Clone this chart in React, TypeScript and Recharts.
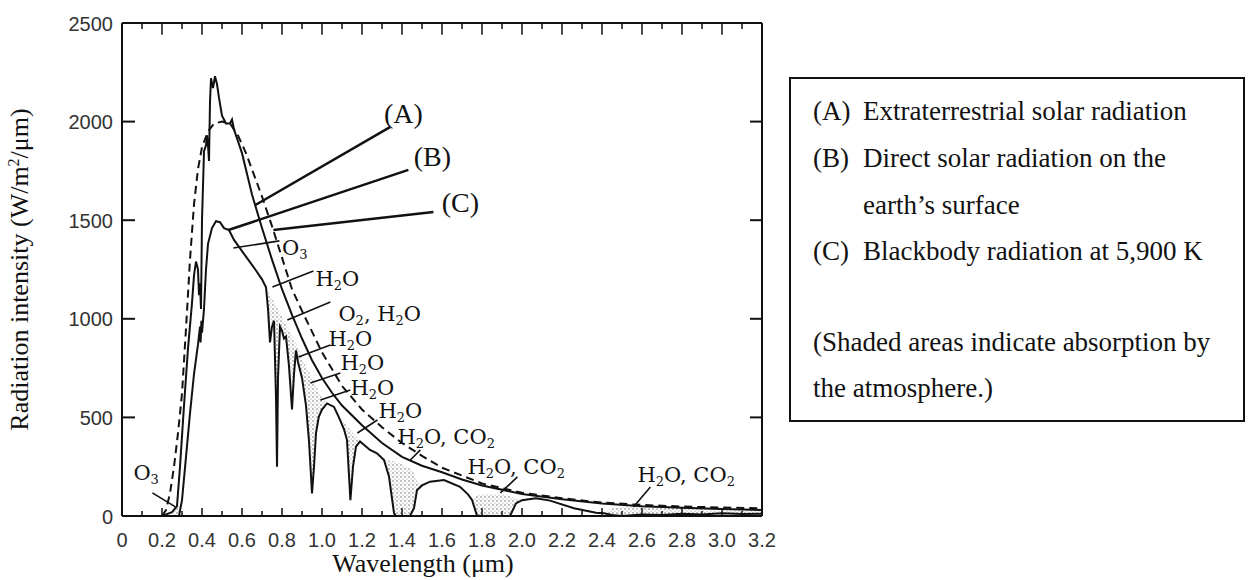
import React from 'react';
import { ComposedChart, Line, Area, XAxis, YAxis, ReferenceLine, ReferenceDot, Label } from 'recharts';

// (A) extraterrestrial solar radiation, W/m2/um vs wavelength um
const extraWl = [0.2, 0.25, 0.275, 0.29, 0.31, 0.33, 0.35, 0.36, 0.37, 0.38, 0.385, 0.39, 0.395, 0.4, 0.41, 0.42, 0.425, 0.43, 0.435, 0.44, 0.445, 0.455, 0.465, 0.475, 0.485, 0.5, 0.52, 0.54, 0.55, 0.56, 0.6, 0.65, 0.7, 0.75, 0.8, 0.85, 0.9, 0.95, 1.0, 1.05, 1.1, 1.2, 1.3, 1.4, 1.5, 1.6, 1.7, 1.8, 2.0, 2.2, 2.4, 2.6, 2.8, 3.0, 3.2];
const extraVal = [0, 20, 50, 250, 560, 850, 1080, 1220, 1290, 1250, 1120, 1180, 1050, 1500, 1850, 1880, 1930, 1880, 1800, 2100, 2220, 2170, 2230, 2190, 2120, 2030, 1990, 1990, 2010, 1960, 1840, 1630, 1460, 1300, 1150, 1020, 900, 790, 700, 625, 560, 460, 370, 300, 255, 222, 185, 155, 112, 85, 64, 50, 42, 35, 30];

// (C) blackbody 5,900 K
const bbWl = [0.2, 0.22, 0.24, 0.26, 0.28, 0.3, 0.32, 0.34, 0.36, 0.38, 0.4, 0.43, 0.46, 0.5, 0.54, 0.58, 0.62, 0.66, 0.7, 0.75, 0.8, 0.85, 0.9, 1.0, 1.1, 1.2, 1.3, 1.4, 1.5, 1.6, 1.8, 2.0, 2.2, 2.4, 2.6, 2.8, 3.0, 3.2];
const bbVal = [0, 30, 115, 250, 420, 620, 950, 1300, 1580, 1760, 1870, 1950, 1990, 2000, 1990, 1930, 1840, 1730, 1620, 1470, 1310, 1150, 1040, 830, 660, 540, 450, 370, 305, 245, 165, 118, 90, 68, 56, 48, 43, 39];

// (B) direct radiation at the surface, plus top of the absorbed (shaded) part
const surfWl = [0.25, 0.27, 0.285, 0.3, 0.32, 0.34, 0.36, 0.38, 0.39, 0.393,
  0.397, 0.4, 0.41, 0.42, 0.43, 0.45, 0.47, 0.49, 0.51, 0.535,
  0.56, 0.585, 0.62, 0.67, 0.7, 0.72, 0.73, 0.74, 0.75, 0.76,
  0.77, 0.775, 0.78, 0.79, 0.8, 0.81, 0.82, 0.835, 0.85, 0.86,
  0.87, 0.88, 0.89, 0.9, 0.92, 0.935, 0.95, 0.96, 0.97, 0.984,
  1.0, 1.025, 1.06, 1.08, 1.09, 1.11, 1.125, 1.142, 1.155, 1.17,
  1.19, 1.24, 1.275, 1.31, 1.335, 1.36, 1.37, 1.4, 1.44, 1.46,
  1.475, 1.5, 1.54, 1.61, 1.69, 1.73, 1.75, 1.775, 1.8, 1.85,
  1.9, 1.94, 1.97, 2.0, 2.07, 2.14, 2.26, 2.37, 2.41, 2.45,
  2.5, 2.6, 2.7, 2.8, 2.9, 3.0, 3.1, 3.2];
const surfVal = [0, 0, 0, 80, 300, 520, 720, 870, 960, 880,
  990, 930, 1050, 1250, 1380, 1460, 1495, 1490, 1460, 1450,
  1400, 1365, 1315, 1245, 1200, 1160, 1050, 880, 960, 990,
  600, 250, 700, 960, 940, 900, 910, 760, 540, 720,
  840, 780, 740, 700, 560, 380, 115, 250, 420, 503,
  540, 571, 553, 510, 487, 440, 385, 80, 250, 352,
  378, 335, 318, 284, 200, 15, 0, 0, 0, 40,
  131, 155, 174, 182, 148, 110, 81, 2, 0, 0,
  0, 0, 64, 80, 90, 78, 39, 17, 14, 5,
  0, 8, 5, 12, 8, 14, 10, 12];
const absorbTop = [0, 40, 55, 80, null, null, null, null, null, null,
  null, null, null, null, null, null, null, null, null, null,
  null, null, null, null, null, 1160, 1140, 1120, 1100, 1085,
  1070, 1060, 1050, 1030, 1010, 990, 970, 940, 910, 890,
  870, 850, 830, 800, 760, 730, 700, 680, 660, 630,
  600, 571, null, 510, 500, 475, 455, 435, 420, 405,
  378, null, null, 284, 282, 278, 275, 262, 240, 215,
  175, 155, null, null, null, null, 81, 105, 110, 112,
  110, 100, 88, 80, null, null, null, null, 14, 40,
  48, 45, 42, 40, 38, 37, 36, 35];

const xTicks = [0, 0.1, 0.2, 0.3, 0.4, 0.5, 0.6, 0.7, 0.8, 0.9, 1.0, 1.1, 1.2, 1.3, 1.4, 1.5, 1.6, 1.7, 1.8, 1.9, 2.0, 2.1, 2.2, 2.3, 2.4, 2.5, 2.6, 2.7, 2.8, 2.9, 3.0, 3.1, 3.2];
const xLabelTicks = [0, 0.2, 0.4, 0.6, 0.8, 1.0, 1.2, 1.4, 1.6, 1.8, 2.0, 2.2, 2.4, 2.6, 2.8, 3.0, 3.2];
const xTickLabels = ['0', '0.2', '0.4', '0.6', '0.8', '1.0', '1.2', '1.4', '1.6', '1.8', '2.0', '2.2', '2.4', '2.6', '2.8', '3.0', '3.2'];
const yTicks = [0, 500, 1000, 1500, 2000, 2500];
const yTickLabels = ['0', '500', '1000', '1500', '2000', '2500'];

// curve tags (A)(B)(C) and their leaders, in data units
const curveTags = [
  { text: '(A)', at: [1.407, 1993], leader: [[1.342, 1973], [0.667, 1577]] },
  { text: '(B)', at: [1.552, 1775], leader: [[1.432, 1755], [0.532, 1450]] },
  { text: '(C)', at: [1.692, 1542], leader: [[1.557, 1542], [0.757, 1450]] },
];

// absorber labels ("_x" = subscript)
const absorbers = [
  { text: 'O_3', at: [0.8, 1324], leader: [[0.557, 1359], [0.787, 1395]] },
  { text: 'H_2O', at: [0.967, 1166], leader: [[0.957, 1242], [0.752, 1161]] },
  { text: 'O_2, H_2O', at: [1.082, 988], leader: [[1.042, 1085], [0.827, 994]] },
  { text: 'H_2O', at: [1.032, 864], leader: [[1.042, 867], [0.882, 806]] },
  { text: 'H_2O', at: [1.092, 738], leader: [[1.092, 725], [0.942, 674]] },
  { text: 'H_2O', at: [1.142, 614], leader: [[1.142, 639], [0.992, 588]] },
  { text: 'H_2O', at: [1.282, 497], leader: [[1.277, 487], [1.177, 421]] },
  { text: 'H_2O, CO_2', at: [1.377, 367], leader: [[1.492, 335], [1.442, 284]] },
  { text: 'H_2O, CO_2', at: [1.727, 213], leader: [[1.977, 198], [1.892, 117]] },
  { text: 'H_2O, CO_2', at: [2.577, 172], leader: [[2.642, 147], [2.557, 46]] },
  { text: 'O_3', at: [0.057, 183], leader: [[0.152, 117], [0.267, 46]] },
];

const legendRows = [
  { tag: '(A)', text: 'Extraterrestrial solar radiation', y: 120 },
  { tag: '(B)', text: 'Direct solar radiation on the', y: 167 },
  { tag: '', text: 'earth\u2019s surface', y: 214 },
  { tag: '(C)', text: 'Blackbody radiation at 5,900 K', y: 260 },
];
const legendNote = ['(Shaded areas indicate absorption by', 'the atmosphere.)'];

const SERIF = '"Liberation Serif", "Times New Roman", serif';
const CHEM = '"DejaVu Serif", serif';
const SANS = '"Liberation Sans", Arial, sans-serif';
const INK = '#111';

const extraData = extraWl.map((x, i) => ({ x, y: extraVal[i] }));
const bbData = bbWl.map((x, i) => ({ x, y: bbVal[i] }));
const surfData = surfWl.map((x, i) => ({ x, y: surfVal[i] }));
const shadeData = surfWl.map((x, i) => ({
  x,
  r: absorbTop[i] == null ? null : [surfVal[i], absorbTop[i]],
}));

function ChemLabel({ x, y, text }: { x: number; y: number; text: string }) {
  const segs: { t: string; sub: boolean }[] = [];
  for (let i = 0; i < text.length; i++) {
    if (text[i] === '_') {
      segs.push({ t: text[i + 1], sub: true });
      i++;
    } else {
      const last = segs[segs.length - 1];
      if (last && !last.sub) last.t += text[i];
      else segs.push({ t: text[i], sub: false });
    }
  }
  let prevSub = false;
  return (
    <text x={x} y={y} fontFamily={CHEM} fontSize={21} fill={INK}>
      {segs.map((s, i) => {
        const dy = s.sub ? 4 : prevSub ? -4 : 0;
        prevSub = s.sub;
        return (
          <tspan key={i} dy={dy} fontSize={s.sub ? 13 : 21}>
            {s.t}
          </tspan>
        );
      })}
    </text>
  );
}

function BottomTick(props: any) {
  const { x, y, payload } = props;
  const k = xLabelTicks.indexOf(payload.value);
  const len = k >= 0 ? 8 : 5;
  return (
    <g>
      <line x1={x} x2={x} y1={y} y2={y - len} stroke={INK} strokeWidth={1.5} />
      {k >= 0 && (
        <text x={x} y={y + 31} textAnchor="middle" fontFamily={SANS} fontSize={20} fill="#333">
          {xTickLabels[k]}
        </text>
      )}
    </g>
  );
}

function LeftTick(props: any) {
  const { x, y, payload } = props;
  const k = yTicks.indexOf(payload.value);
  const inner = payload.value > 0 && payload.value < 2500;
  return (
    <g>
      {inner && <line x1={x} x2={x + 13} y1={y} y2={y} stroke={INK} strokeWidth={2} />}
      <text x={x - 9} y={y + 7.5} textAnchor="end" fontFamily={SANS} fontSize={20} fill="#333">
        {yTickLabels[k]}
      </text>
    </g>
  );
}

export default function App() {
  return (
    <div style={{ position: 'absolute', left: 0, top: 0, width: 1249, height: 580, background: '#fff' }}>
      <ComposedChart width={800} height={580} margin={{ top: 23, right: 38, bottom: 0, left: 0 }}>
        <defs>
          <pattern id="stipple" width="4" height="4" patternUnits="userSpaceOnUse">
            <circle cx="1" cy="1" r="0.7" fill="#555" />
            <circle cx="3" cy="3" r="0.6" fill="#888" />
          </pattern>
        </defs>
        <XAxis
          type="number"
          dataKey="x"
          domain={[0, 3.2]}
          allowDataOverflow
          ticks={xTicks}
          interval={0}
          tickSize={0}
          tickMargin={0}
          tickLine={false}
          tick={<BottomTick />}
          axisLine={{ stroke: INK, strokeWidth: 2 }}
          height={64}
        >
          <Label
            content={(p: any) => (
              <text
                x={p.viewBox.x + p.viewBox.width / 2 - 19}
                y={p.viewBox.y + p.viewBox.height - 8}
                textAnchor="middle"
                fontFamily={SERIF}
                fontSize={26}
                fill={INK}
              >
                Wavelength (μm)
              </text>
            )}
          />
        </XAxis>
        <YAxis
          type="number"
          domain={[0, 2500]}
          allowDataOverflow
          ticks={yTicks}
          interval={0}
          tickSize={0}
          tickMargin={0}
          tickLine={false}
          tick={<LeftTick />}
          axisLine={{ stroke: INK, strokeWidth: 2 }}
          width={122}
        >
          <Label
            content={(p: any) => {
              const cx = p.viewBox.x + 28;
              const cy = p.viewBox.y + p.viewBox.height / 2;
              return (
                <text
                  x={cx}
                  y={cy}
                  transform={`rotate(-90 ${cx} ${cy})`}
                  textAnchor="middle"
                  fontFamily={SERIF}
                  fontSize={26}
                  fill={INK}
                >
                  Radiation intensity (W/m
                  <tspan dy={-9} fontSize={16}>2</tspan>
                  <tspan dy={9}>/μm)</tspan>
                </text>
              );
            }}
          />
        </YAxis>

        <Area
          data={shadeData}
          dataKey="r"
          type="linear"
          fill="url(#stipple)"
          fillOpacity={1}
          stroke="none"
          connectNulls={false}
          isAnimationActive={false}
        />
        <Line data={bbData} dataKey="y" type="linear" stroke={INK} strokeWidth={2} strokeDasharray="8 5" dot={false} isAnimationActive={false} />
        <Line data={extraData} dataKey="y" type="linear" stroke={INK} strokeWidth={2} dot={false} isAnimationActive={false} />
        <Line data={surfData} dataKey="y" type="linear" stroke={INK} strokeWidth={2} dot={false} isAnimationActive={false} />

        {/* frame: top and right edges with inward ticks */}
        <ReferenceLine y={2500} stroke={INK} strokeWidth={2} />
        <ReferenceLine x={3.2} stroke={INK} strokeWidth={2} />
        {xTicks.slice(1, -1).map((t) => (
          <ReferenceLine
            key={'tt' + t}
            segment={[{ x: t, y: 2500 }, { x: t, y: xLabelTicks.includes(t) ? 2440 : 2470 }]}
            stroke={INK}
            strokeWidth={1.5}
          />
        ))}
        {yTicks.slice(1, -1).map((v) => (
          <ReferenceLine key={'rt' + v} segment={[{ x: 3.2, y: v }, { x: 3.14, y: v }]} stroke={INK} strokeWidth={2} />
        ))}

        {curveTags.map((c) => (
          <ReferenceLine
            key={'cl' + c.text}
            segment={[{ x: c.leader[0][0], y: c.leader[0][1] }, { x: c.leader[1][0], y: c.leader[1][1] }]}
            stroke={INK}
            strokeWidth={2.5}
          />
        ))}
        {curveTags.map((c) => (
          <ReferenceDot
            key={'ct' + c.text}
            x={c.at[0]}
            y={c.at[1]}
            r={0}
            shape={(p: any) => (
              <text x={p.cx} y={p.cy} textAnchor="middle" fontFamily={SERIF} fontSize={28} fill={INK}>
                {c.text}
              </text>
            )}
          />
        ))}
        {absorbers.map((a, i) => (
          <ReferenceLine
            key={'al' + i}
            segment={[{ x: a.leader[0][0], y: a.leader[0][1] }, { x: a.leader[1][0], y: a.leader[1][1] }]}
            stroke={INK}
            strokeWidth={1.6}
          />
        ))}
        {absorbers.map((a, i) => (
          <ReferenceDot
            key={'at' + i}
            x={a.at[0]}
            y={a.at[1]}
            r={0}
            shape={(p: any) => <ChemLabel x={p.cx} y={p.cy} text={a.text} />}
          />
        ))}
      </ComposedChart>

      <svg width={1249} height={580} style={{ position: 'absolute', left: 0, top: 0, pointerEvents: 'none' }}>
        <rect x={790} y={78} width={454} height={343} fill="none" stroke={INK} strokeWidth={2} />
        {legendRows.map((r) => (
          <g key={r.y}>
            {r.tag && (
              <text x={813} y={r.y} fontFamily={SERIF} fontSize={27} fill={INK}>
                {r.tag}
              </text>
            )}
            <text x={863} y={r.y} fontFamily={SERIF} fontSize={27} fill={INK}>
              {r.text}
            </text>
          </g>
        ))}
        {legendNote.map((t, i) => (
          <text key={t} x={813} y={351 + i * 46} fontFamily={SERIF} fontSize={27} fill={INK}>
            {t}
          </text>
        ))}
      </svg>
    </div>
  );
}
